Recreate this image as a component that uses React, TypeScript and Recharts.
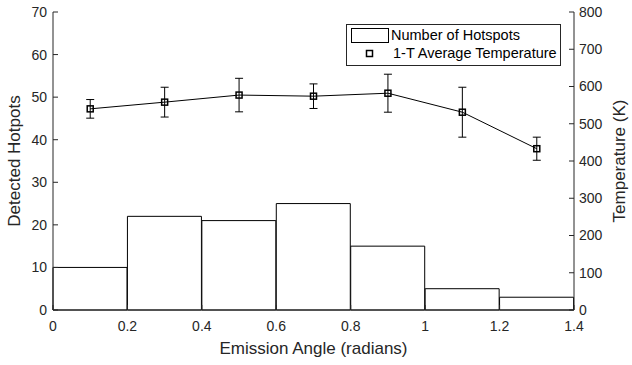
import React from 'react';
import { ComposedChart, Bar, Line, XAxis, YAxis, ErrorBar, Legend } from 'recharts';

const binCenters = [0.1, 0.3, 0.5, 0.7, 0.9, 1.1, 1.3];
const hotspotCounts = [10, 22, 21, 25, 15, 5, 3];
const avgTemps = [540, 558, 577, 574, 582, 531, 433];
const tempErrors = [25, 40, 45, 33, 51, 67, 31];
const xTicks = [0, 0.2, 0.4, 0.6, 0.8, 1, 1.2, 1.4];
const leftTicks = [0, 10, 20, 30, 40, 50, 60, 70];
const rightTicks = [0, 100, 200, 300, 400, 500, 600, 700, 800];

const data = binCenters.map((x, i) => ({
  x,
  count: hotspotCounts[i],
  temp: avgTemps[i],
  err: tempErrors[i],
}));

const FONT = '"Liberation Sans", Arial, sans-serif';
const AXIS = '#262626';

const SquareDot = (props: any) => {
  const { cx, cy } = props;
  if (cx == null || cy == null) return null;
  return <rect x={cx - 3} y={cy - 3} width={6} height={6} fill="none" stroke="#000" strokeWidth={1.5} />;
};

const renderLegend = (props: any) => {
  const payload = [...(props.payload || [])].sort((a: any, b: any) =>
    (a.dataKey === 'count' ? 0 : 1) - (b.dataKey === 'count' ? 0 : 1)
  );
  return (
    <div
      style={{
        border: `1px solid ${AXIS}`,
        background: '#fff',
        width: 213,
        height: 40,
        boxSizing: 'content-box',
        fontFamily: FONT,
        fontSize: 14.5,
        color: '#000',
        position: 'relative',
      }}
    >
      {payload.map((entry: any, i: number) => (
        <div key={i} style={{ position: 'absolute', left: 0, top: i === 0 ? 3 : 20, height: 17, width: 213 }}>
          <svg width={44} height={17} style={{ position: 'absolute', left: 0, top: 0 }}>
            {entry.dataKey === 'count' ? (
              <rect x={4.5} y={0.5} width={37} height={14} fill="#fff" stroke="#000" strokeWidth={1} />
            ) : (
              <rect x={19.5} y={5.5} width={6} height={6} fill="none" stroke="#000" strokeWidth={1.5} />
            )}
          </svg>
          <span style={{ position: 'absolute', left: i === 0 ? 44 : 46, top: i === 0 ? -1 : 0, lineHeight: '17px', whiteSpace: 'nowrap' }}>
            {entry.value}
          </span>
        </div>
      ))}
    </div>
  );
};

export default function App() {
  return (
    <div style={{ position: 'absolute', left: 0, top: 0, fontFamily: FONT }}>
      <ComposedChart
        width={632}
        height={365}
        data={data}
        margin={{ top: 12, right: 0, bottom: 0, left: 0 }}
        barCategoryGap={0}
        barGap={0}
      >
        <XAxis
          dataKey="x"
          type="number"
          domain={[0, 1.4]}
          ticks={xTicks}
          height={55}
          tickSize={-5}
          tickMargin={16}
          stroke={AXIS}
          tick={{ fill: AXIS, fontSize: 14, fontFamily: FONT }}
          label={{ value: 'Emission Angle (radians)', position: 'insideBottom', offset: 11, fill: AXIS, fontSize: 17, fontFamily: FONT }}
        />
        <YAxis
          yAxisId="left"
          domain={[0, 70]}
          ticks={leftTicks}
          width={53}
          tickSize={-5}
          tickMargin={11}
          stroke={AXIS}
          tick={{ fill: AXIS, fontSize: 14, fontFamily: FONT }}
          label={{ value: 'Detected Hotpots', angle: -90, position: 'insideLeft', offset: 14, fill: AXIS, fontSize: 17, fontFamily: FONT, style: { textAnchor: 'middle' } }}
        />
        <YAxis
          yAxisId="right"
          orientation="right"
          domain={[0, 800]}
          ticks={rightTicks}
          width={58}
          tickSize={-5}
          tickMargin={10}
          stroke={AXIS}
          tick={{ fill: AXIS, fontSize: 14, fontFamily: FONT }}
          label={{ value: 'Temperature (K)', angle: -90, position: 'insideRight', offset: 13, fill: AXIS, fontSize: 17, fontFamily: FONT, style: { textAnchor: 'middle' } }}
        />
        <Legend
          layout="horizontal"
          verticalAlign="middle"
          align="center"
          wrapperStyle={{ left: 346, top: 24, width: 215, height: 42 }}
          content={renderLegend}
        />
        <Bar
          yAxisId="left"
          dataKey="count"
          name="Number of Hotspots"
          fill="#fff"
          stroke="#000"
          strokeWidth={1}
          legendType="rect"
          isAnimationActive={false}
        />
        <Line
          yAxisId="right"
          dataKey="temp"
          name="1-T Average Temperature"
          stroke="#000"
          strokeWidth={1}
          dot={<SquareDot />}
          activeDot={false}
          legendType="square"
          isAnimationActive={false}
        >
          <ErrorBar dataKey="err" direction="y" width={4} stroke="#000" strokeWidth={1} isAnimationActive={false} />
        </Line>
      </ComposedChart>
    </div>
  );
}
